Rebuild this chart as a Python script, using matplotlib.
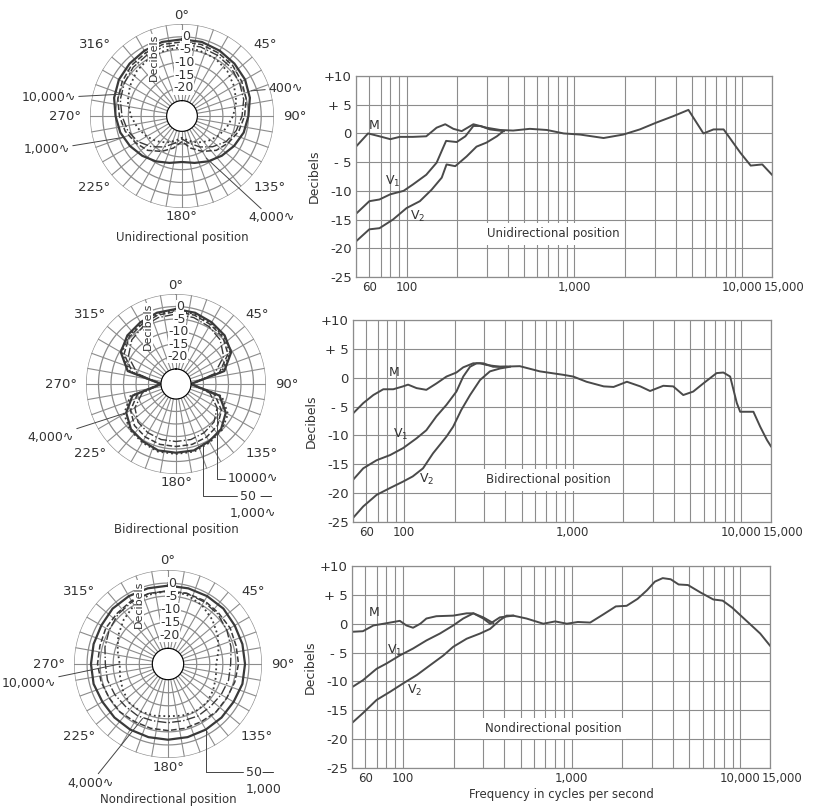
import numpy as np
import matplotlib.pyplot as plt

W, H = 834, 807
INK = '#4a4a4a'
GRID = '#8c8c8c'
TXT = '#333333'

# ---------------- frequency response data (Hz, dB) ----------------
uni_m_f = [50, 59, 69, 80, 91, 109, 131, 151, 170, 190, 213, 250, 299, 361, 431, 542, 685, 862,
           1080, 1490, 1950, 2450, 3080, 3870, 4770, 5860, 6730, 7730, 9740, 11200, 13130, 15000]
uni_m_db = [-2.3, 0, -0.5, -1.0, -0.6, -0.6, -0.5, 1.0, 1.6, 0.8, 0.4, 1.6, 1.0, 0.6, 0.5, 0.8, 0.6, 0,
            -0.2, -0.8, -0.2, 0.7, 1.9, 3.0, 4.1, 0, 0.7, 0.7, -3.4, -5.6, -5.4, -7.2]
uni_v1_f = [50, 60, 69, 80, 96, 109, 131, 151, 165, 172, 199, 224, 250, 275, 313, 380]
uni_v1_db = [-14, -11.8, -11.5, -10.6, -10, -8.9, -7.2, -5.1, -2.5, -1.3, -1.5, -0.5, 1.3, 1.3, 0.7, 0.4]
uni_v2_f = [50, 60, 69, 83, 100, 120, 141, 162, 173, 195, 228, 261, 299, 345, 377]
uni_v2_db = [-18.8, -16.7, -16.5, -15, -13, -11.8, -9.8, -7.7, -5.4, -5.7, -4, -2.3, -1.6, -0.5, 0.4]

bi_m_f = [50, 57.5, 66, 75.6, 86.6, 99, 106, 119, 136, 156, 179, 205, 225, 258, 283, 310, 372, 487,
          640, 882, 1010, 1210, 1530, 1750, 2100, 2520, 2880, 3450, 3950, 4530, 5190, 5950, 7140,
          7830, 8590, 9410, 9850, 10800, 11800, 12950, 14200, 15000]
bi_m_db = [-6.2, -4.4, -3, -2, -2, -1.5, -1.2, -1.8, -2.1, -1, 0.2, 0.9, 1.8, 2.5, 2.5, 2.2, 1.9, 2,
           1.1, 0.5, 0.2, -0.7, -1.5, -1.6, -0.7, -1.5, -2.3, -1.4, -1.5, -3, -2.4, -1, 0.8,
           0.9, 0.2, -4.4, -5.9, -5.9, -5.9, -8.5, -10.8, -11.9]
bi_v1_f = [50, 57.5, 69, 83, 99, 119, 136, 156, 179, 205, 225, 247, 270, 296, 338, 406]
bi_v1_db = [-17.7, -15.7, -14.3, -13.4, -12.2, -10.5, -9.1, -6.7, -4.7, -2.4, 0.2, 1.9, 2.5, 2.5, 1.9, 1.9]
bi_v2_f = [50, 57.5, 69, 83, 99, 113, 130, 149, 179, 196, 219, 247, 283, 324, 372, 426]
bi_v2_db = [-24.3, -22.3, -20.3, -19.1, -18, -17.1, -15.7, -13.1, -10.2, -8.5, -5.6, -3, -0.4, 1.1, 1.6, 1.9]

non_m_f = [50, 58, 67, 77, 88, 96, 105, 115, 127, 138, 158, 199, 239, 262, 300, 329, 376, 451, 541,
           680, 800, 938, 1090, 1290, 1540, 1830, 2120, 2460, 2800, 3120, 3470, 3870, 4310, 4900,
           5820, 6920, 7860, 8940, 10160, 11550, 13120, 15000]
non_m_db = [-1.4, -1.3, -0.3, 0, 0.3, 0.5, -0.3, -0.7, 0, 0.9, 1.3, 1.4, 1.8, 1.8, 0.9, 0, 1.1, 1.4, 0.9,
            0, 0.4, 0, 0.3, 0.2, 1.6, 3.0, 3.1, 4.3, 5.8, 7.3, 7.9, 7.7, 6.8, 6.7, 5.4, 4.2, 4.0, 2.8,
            1.3, -0.2, -1.7, -3.8]
non_v1_f = [50, 58, 70, 80, 96, 115, 138, 166, 199, 228, 262, 300, 344]
non_v1_db = [-11, -9.8, -7.8, -6.9, -5.5, -4.3, -2.9, -1.7, -0.3, 0.9, 1.8, 1.1, 0.1]
non_v2_f = [50, 58, 70, 84, 101, 121, 145, 174, 199, 239, 287, 329, 376, 412, 451]
non_v2_db = [-17.2, -15.5, -13.2, -11.8, -10.3, -8.9, -7.2, -5.5, -4, -2.6, -1.7, -0.9, 0.6, 1.4, 1.4]

# ---------------- polar pattern data (dB every 15 degrees, 0..345) ----------------
angles = np.arange(0, 360, 15)
uni_400 = [-1, -1, -1.5, -2, -2.5, -3.5, -5, -6, -7.5, -9, -10.5, -12, -13, -12, -10.5, -9, -7.5, -6,
           -5, -3.5, -2.5, -2, -1.5, -1]
uni_1000 = [-2, -2, -2.5, -3, -4, -5, -6.5, -8, -10, -12, -15, -18, -21, -18, -15, -12, -10, -8,
            -6.5, -5, -4, -3, -2.5, -2]
uni_4000 = [-3, -3, -3.5, -4, -5, -6, -7.5, -9, -11, -14, -17, -20, -22, -20, -17, -14, -11, -9,
            -7.5, -6, -5, -4, -3.5, -3]
uni_10000 = [-4, -4.5, -5, -6, -7.5, -9, -11, -13, -15, -17, -19, -21, -22.5, -21, -19, -17, -15, -13,
             -11, -9, -7.5, -6, -5, -4.5]

bi_1000 = [-1, -1.5, -2.5, -3.5, -5.5, -11, -25, -13, -8, -5.5, -4.5, -3.5, -3.5, -3.5, -4.5, -5.5,
           -8, -13, -25, -11, -5.5, -3.5, -2.5, -1.5]
bi_4000 = [-2, -2.5, -3.5, -4.5, -7, -13, -25, -15, -10, -7.5, -6.5, -6, -6, -6, -6.5, -7.5,
           -10, -15, -25, -13, -7, -4.5, -3.5, -2.5]
bi_10000 = [-3, -3.5, -4.5, -6, -9, -15, -25, -17, -12, -9.5, -8.5, -8, -8, -8, -8.5, -9.5,
            -12, -17, -25, -15, -9, -6, -4.5, -3.5]
bi_50 = [-1.5, -2, -3, -4, -6, -12, -25, -12, -7, -5, -4, -3, -3, -3, -4, -5,
         -7, -12, -25, -12, -6, -4, -3, -2]

non_50 = [-1, -1, -1, -1, -1.5, -1.5, -1.5, -1.5, -2, -2, -2, -2, -2, -2, -2, -2, -2, -1.5,
          -1.5, -1.5, -1.5, -1, -1, -1]
non_1000 = [-3, -3, -3, -3.5, -3.5, -4, -4, -4.5, -5, -5, -5.5, -5.5, -5.5, -5.5, -5.5, -5, -5, -4.5,
            -4, -4, -3.5, -3.5, -3, -3]
non_4000 = [-3, -3, -3.5, -4, -5, -6, -7, -7, -7.5, -8, -8, -8.5, -8.5, -8.5, -8, -8, -7.5, -7,
            -7, -6, -5, -4, -3.5, -3]
non_10000 = [-3, -3.5, -5, -7, -9, -11, -12.5, -12, -11, -10, -10, -10.5, -11, -10.5, -10, -10, -11, -12,
             -12.5, -11, -9, -7, -5, -3.5]

grid_freqs = [50, 60, 70, 80, 90, 100, 200, 300, 400, 500, 600, 700, 800, 900, 1000,
              2000, 3000, 4000, 5000, 6000, 7000, 8000, 9000, 10000, 15000]
tick_freqs = [60, 100, 1000, 10000]
tick_names = ['60', '100', '1,000', '10,000']
db_ticks = [-25, -20, -15, -10, -5, 0, 5, 10]
db_names = ['-25', '-20', '-15', '-10', '- 5', '0', '+ 5', '+10']
ring_db = [0, -5, -10, -15, -20]

plt.rcParams['font.family'] = ['DejaVu Sans']
fig = plt.figure(figsize=(W / 100, H / 100), dpi=100)


def px_rect(left, top, right, bottom):
    return [left / W, 1 - bottom / H, (right - left) / W, (bottom - top) / H]


def freq_panel(rect, curves, title, title_at, names_at, xlabel=False):
    ax = fig.add_axes(rect)
    ax.set_xscale('log')
    ax.set_xlim(50, 15000)
    ax.set_ylim(-25, 10)
    ax.set_xticks(grid_freqs, minor=True)
    ax.set_xticks(tick_freqs)
    ax.set_xticklabels(tick_names, fontsize=8.5, color=TXT)
    ax.set_xticklabels([], minor=True)
    ax.set_yticks(db_ticks)
    ax.set_yticklabels(db_names, fontsize=9.5, color=TXT)
    ax.tick_params(which='both', length=0, pad=3)
    ax.annotate('15,000', xy=(15000, 0), xycoords=ax.get_xaxis_transform(), xytext=(-6, -3),
                textcoords='offset points', fontsize=8.5, color=TXT, ha='left', va='top')
    ax.grid(True, which='both', color=GRID, lw=0.8)
    ax.set_axisbelow(True)
    for s in ax.spines.values():
        s.set_color(GRID)
        s.set_linewidth(0.9)
    for f, db in curves:
        ax.plot(f, db, color=INK, lw=1.4)
    ax.text(title_at[0], title_at[1], title, fontsize=8.5, color=TXT, ha='center', va='center',
            bbox=dict(fc='white', ec='none', pad=3))
    for name, (f, db) in zip(['M', 'V$_1$', 'V$_2$'], names_at):
        ax.text(f, db, name, fontsize=9, color=TXT, ha='center', va='center')
    ax.set_ylabel('Decibels', fontsize=9, color=TXT, labelpad=2)
    if xlabel:
        ax.set_xlabel('Frequency in cycles per second', fontsize=8.5, color=TXT, labelpad=2)
    return ax


def polar_panel(cx, cy, R, curves, styles, angle_names, caption, cap_y):
    ax = fig.add_axes([(cx - R) / W, 1 - (cy + R) / H, 2 * R / W, 2 * R / H], projection='polar')
    ax.set_theta_zero_location('N')
    ax.set_theta_direction(-1)
    ax.set_rorigin(-31)
    ax.set_ylim(-25, 5)
    ax.set_xticks([])
    ax.set_yticks([])
    ax.grid(False)
    for s in ax.spines.values():
        s.set_visible(False)
    full = np.linspace(0, 2 * np.pi, 361)
    for r in range(-25, 6, 5):
        ax.plot(full, np.full_like(full, r), color=GRID, lw=0.9, zorder=1)
    for a in np.deg2rad(np.arange(0, 360, 10)):
        ax.plot([a, a], [-25, 5], color=GRID, lw=0.8, zorder=1)
    th = np.deg2rad(np.append(angles, 360))
    for db, (ls, lw) in zip(curves, styles):
        ax.plot(th, np.append(db, db[0]), color='#3a3a3a', ls=ls, lw=lw, zorder=2)
    # ring values and unit
    for r in ring_db:
        ax.text(np.deg2rad(3), r, '%d' % r, fontsize=9, color=TXT,
                ha='center', va='center', zorder=3, bbox=dict(fc='white', ec='none', pad=0.1))
    ax.text(np.deg2rad(-26), -5.5, 'Decibels', rotation=90, fontsize=8, color=TXT,
            ha='center', va='center', zorder=3, bbox=dict(fc='white', ec='none', pad=0.1))
    # compass angles
    for deg, name in zip(range(0, 360, 45), angle_names):
        ha = 'center'
        if 0 < deg < 180:
            ha = 'left'
        elif deg > 180:
            ha = 'right'
        ax.text(np.deg2rad(deg), 8.5, name, fontsize=9.5, color=TXT, ha=ha, va='center',
                clip_on=False)
    fig.text(cx / W, 1 - cap_y / H, caption, fontsize=8.5, color=TXT, ha='center', va='center')
    return ax


def tag(ax, text, theta, db, x, y, ha='left', conn='arc3'):
    ax.annotate(text, xy=(np.deg2rad(theta), db), xytext=(x, H - y), textcoords='figure pixels',
                fontsize=9, color=TXT, ha=ha, va='center', annotation_clip=False,
                arrowprops=dict(arrowstyle='-', color='#444444', lw=0.7, shrinkA=0, shrinkB=0,
                                connectionstyle=conn))


# ---------------- right-hand frequency response panels ----------------
freq_panel(px_rect(356, 76, 772, 277),
           [(uni_m_f, uni_m_db), (uni_v1_f, uni_v1_db), (uni_v2_f, uni_v2_db)],
           'Unidirectional position', (750, -17.5), [(64, 1.4), (83, -8.3), (116, -14.4)])
freq_panel(px_rect(353, 320, 771, 522),
           [(bi_m_f, bi_m_db), (bi_v1_f, bi_v1_db), (bi_v2_f, bi_v2_db)],
           'Bidirectional position', (720, -17.7), [(88, 0.9), (96, -9.9), (136, -17.7)])
freq_panel(px_rect(352, 566, 770, 768),
           [(non_m_f, non_m_db), (non_v1_f, non_v1_db), (non_v2_f, non_v2_db)],
           'Nondirectional position', (780, -18.1), [(68, 2.0), (89, -4.6), (118, -11.5)], xlabel=True)

# ---------------- left-hand polar panels ----------------
styles = [('-', 1.6), ('--', 1.1), ('-.', 1.0), (':', 1.3)]
ax1 = polar_panel(182, 116, 92, [uni_400, uni_1000, uni_4000, uni_10000], styles,
                  ['0°', '45°', '90°', '135°', '180°', '225°', '270°', '316°'],
                  'Unidirectional position', 238)
tag(ax1, '400∿', 70, -2.2, 268, 88)
tag(ax1, '10,000∿', 290, -6, 76, 98, ha='right')
tag(ax1, '1,000∿', 250, -6.5, 70, 150, ha='right')
tag(ax1, '4,000∿', 150, -12, 248, 218)

ax2 = polar_panel(176, 384, 90, [bi_1000, bi_4000, bi_10000, bi_50], styles,
                  ['0°', '45°', '90°', '135°', '180°', '225°', '270°', '315°'],
                  'Bidirectional position', 529)
tag(ax2, '4,000∿', 240, -8, 74, 437, ha='right')
tag(ax2, '10000∿', 120, -12, 228, 479, conn='angle,angleA=0,angleB=90,rad=0')
tag(ax2, '50 —', 155, -5, 240, 496, conn='angle,angleA=0,angleB=90,rad=0')
fig.text(230 / W, 1 - 513 / H, '1,000∿', fontsize=9, color=TXT, ha='left', va='center')

ax3 = polar_panel(168, 664, 94, [non_50, non_1000, non_4000, non_10000], styles,
                  ['0°', '45°', '90°', '135°', '180°', '225°', '270°', '315°'],
                  'Nondirectional position', 800)
tag(ax3, '10,000∿', 270, -12.5, 56, 683, ha='right')
tag(ax3, '4,000∿', 205, -8, 114, 783, ha='right')
tag(ax3, '50—', 150, -2, 246, 772, conn='angle,angleA=0,angleB=90,rad=0')
fig.text(246 / W, 1 - 789 / H, '1,000', fontsize=9, color=TXT, ha='left', va='center')

fig.savefig('out.png', dpi=100, facecolor='white')
